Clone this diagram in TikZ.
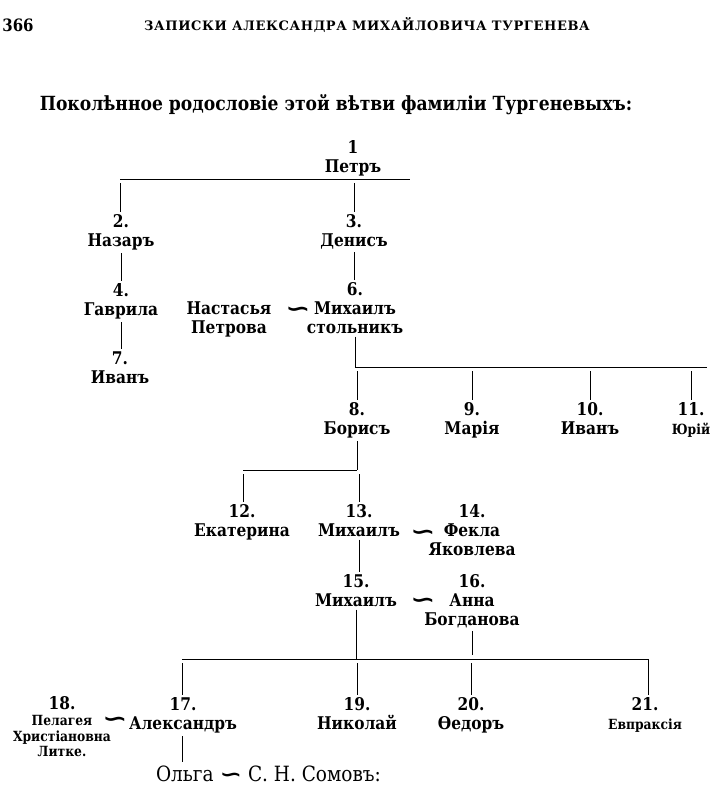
\documentclass[tikz,border=0pt]{standalone}
\usepackage{fontspec}
\setmainfont{DejaVu Serif}[FakeStretch=0.88]
\newfontfamily\headfont{DejaVu Serif}[LetterSpace=5]
\newfontfamily\symfont{DejaVu Sans}
\newcommand\nmsize{\fontsize{17.5}{19}\selectfont}
\newcommand\smallnm{\fontsize{14}{16.5}\selectfont}
\newcommand\wedsign{\scalebox{1.5}[1.15]{∽}}
\tikzset{
  person/.style={align=center, inner sep=0pt, outer sep=3pt, anchor=north, yshift=8.5pt, font=\bfseries\nmsize},
  wed/.style={inner sep=0pt, anchor=base, font=\symfont\bfseries\fontsize{20}{20}\selectfont},
  kid/.style={shorten <=4pt},
}
\begin{document}
\begin{tikzpicture}[x=1pt, y=-1pt, line width=1pt]
  \useasboundingbox (0,0) rectangle (713,800);
  % page head and title
  \path
    (18,25) node[font=\bfseries\fontsize{17}{19}\selectfont] (page) {366}
    (367,25) node[font=\headfont\bfseries\fontsize{13}{15}\selectfont] (head) {ЗАПИСКИ АЛЕКСАНДРА МИХАЙЛОВИЧА ТУРГЕНЕВА}
    (336,105) node[font=\bfseries\fontsize{19.5}{21}\selectfont] (title) {Поколѣнное родословіе этой вѣтви фамиліи Тургеневыхъ:};
  % persons
  \path
    (353,146) node[person] (p1) {1\\Петръ}
    (121,220) node[person] (p2) {2.\\Назаръ}
    (354,220) node[person] (p3) {3.\\Денисъ}
    (121,289) node[person] (p4) {4.\\Гаврила}
    (355,288) node[person] (p6) {6.\\Михаилъ\\стольникъ}
    (229,307) node[person] (p5) {Настасья\\Петрова}
    (120,357) node[person] (p7) {7.\\Иванъ}
    (357,408) node[person] (p8) {8.\\Борисъ}
    (472,408) node[person] (p9) {9.\\Марія}
    (590,408) node[person] (p10) {10.\\Иванъ}
    (691,408) node[person] (p11) {11.\\\smallnm Юрій}
    (242,510) node[person] (p12) {12.\\Екатерина}
    (359,510) node[person] (p13) {13.\\Михаилъ}
    (472,510) node[person] (p14) {14.\\Фекла\\Яковлева}
    (356,580) node[person] (p15) {15.\\Михаилъ}
    (472,580) node[person] (p16) {16.\\Анна\\Богданова}
    (183,703) node[person] (p17) {17.\\Александръ}
    (62,702) node[person] (p18) {18.\\[-3pt]\smallnm Пелагея\\[-3pt]\smallnm Христіановна\\[-4pt]\smallnm Литке.}
    (357,703) node[person] (p19) {19.\\Николай}
    (471,703) node[person] (p20) {20.\\Ѳедоръ}
    (645,703) node[person] (p21) {21.\\\smallnm Евпраксія}
    (153,781) node[anchor=base west, inner sep=0pt, outer sep=3pt, font=\fontsize{21}{23}\selectfont] (p22) {Ольга {\symfont\bfseries\fontsize{18}{18}\selectfont\wedsign} С. Н. Сомовъ:};
  % marriages
  \path
    (298,316) node[wed] (w1) {\wedsign}
    (423,539) node[wed] (w2) {\wedsign}
    (423,607) node[wed] (w3) {\wedsign}
    (115,726) node[wed] (w4) {\wedsign};
  % bars
  \coordinate (b1) at (120,179);
  \coordinate (b1r) at (410,179);
  \coordinate (b2r) at (707,367);
  \coordinate (b3) at (243,470);
  \coordinate (b4) at (182,659);
  \coordinate (b4r) at (648,659);
  \begin{scope}[-]
    \draw (b1) -- (b1r);
    \draw[kid] (b1) -- (b1 |- p2.north);
    \draw[kid] (p3.north |- b1) -- (p3.north);
    \draw (p2.south) -- (p2.south |- p4.north);
    \draw (p4.south) -- (p4.south |- p7.north);
    \draw (p3.south) -- (p3.south |- p6.north);
    \draw (p6.south) -- (p6.south |- b2r);
    \draw (p6.south |- b2r) -- (b2r);
    \draw[kid] (p8.north |- b2r) -- (p8.north);
    \draw[kid] (p9.north |- b2r) -- (p9.north);
    \draw[kid] (p10.north |- b2r) -- (p10.north);
    \draw[kid] (p11.north |- b2r) -- (p11.north);
    \draw (p8.south) -- (p8.south |- b3);
    \draw (b3) -- (p8.south |- b3);
    \draw[kid] (b3) -- (b3 |- p12.north);
    \draw[kid] (p13.north |- b3) -- (p13.north);
    \draw (p13.south) -- (p13.south |- p15.north);
    \draw (p15.south) -- (p15.south |- b4);
    \draw[shorten >=4pt] (p16.south) -- (p16.south |- b4);
    \draw (b4) -- (b4r);
    \draw[kid] (b4) -- (b4 |- p17.north);
    \draw[kid] (p19.north |- b4) -- (p19.north);
    \draw[kid] (p20.north |- b4) -- (p20.north);
    \draw (b4r) -- (b4r |- p21.north);
    \draw (b4 |- p17.south) -- (b4 |- p22.north);
  \end{scope}
\end{tikzpicture}
\end{document}
